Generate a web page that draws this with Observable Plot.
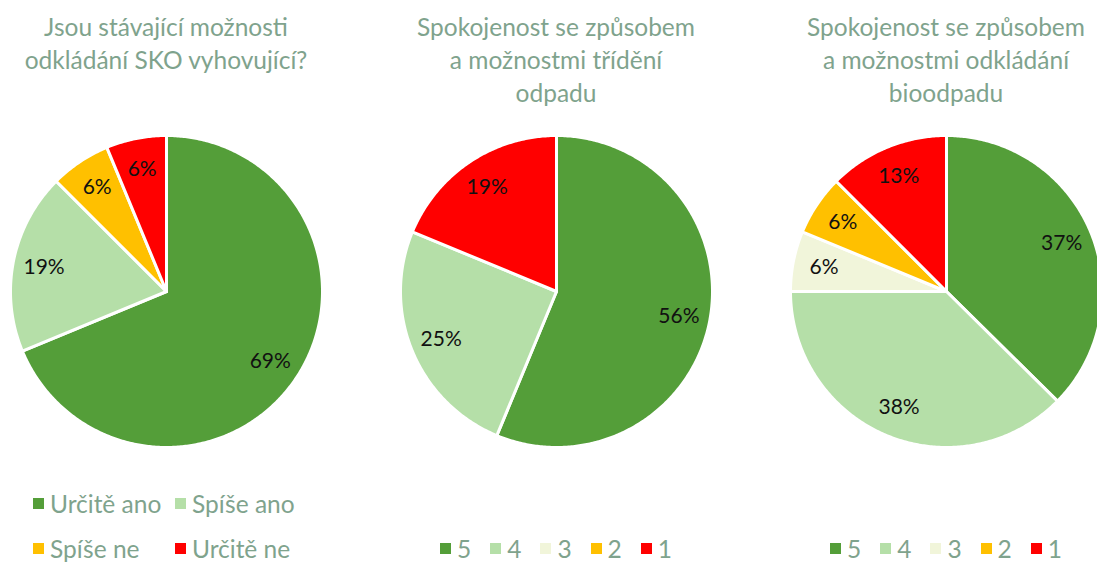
<!DOCTYPE html>
<html><head><meta charset="utf-8">
<script src="https://cdn.jsdelivr.net/npm/d3@7"></script>
<script src="https://cdn.jsdelivr.net/npm/@observablehq/plot@0.6"></script>
<style>
html,body{margin:0;padding:0;background:#fff;width:1097px;height:563px;overflow:hidden;font-family:Lato,"Open Sans",sans-serif;}
.panel{position:absolute;top:0;width:380px;height:563px;}
.title{position:absolute;top:10px;left:0;width:380px;text-align:center;color:#7FA38D;font-size:24.5px;line-height:33px;}
.chart{position:absolute;top:131px;left:0;}
.legend{position:absolute;color:#7FA38D;font-size:24.5px;}
.item{display:flex;align-items:center;white-space:nowrap;}
.sw{width:11px;height:11px;display:inline-block;margin-right:6px;flex:none;}
</style></head><body>
<script>
// ---- data ----
const skoTitle = ["Jsou stávající možnosti", "odkládání SKO vyhovující?"];
const skoCategories = ["Určitě ano", "Spíše ano", "Spíše ne", "Určitě ne"];
const skoValues = [68.75, 18.75, 6.25, 6.25];
const skoColors = ["#549E39", "#B5DFA8", "#FFC000", "#FF0000"];

const ratingCategories = ["5", "4", "3", "2", "1"];
const ratingColors = ["#549E39", "#B5DFA8", "#F1F5DA", "#FFC000", "#FF0000"];

const sortTitle = ["Spokojenost se způsobem", "a možnostmi třídění", "odpadu"];
const sortValues = [56.25, 25, 0, 0, 18.75];

const bioTitle = ["Spokojenost se způsobem", "a možnostmi odkládání", "bioodpadu"];
const bioValues = [37.4, 37.6, 6.25, 6.25, 12.5];

const FONT = "Lato, 'Open Sans', sans-serif";
const R = 156; // pie radius in px

function pieChart(categories, values, colors) {
  const data = categories.map((c, i) => ({category: c, value: values[i]}));
  const arcs = d3.pie().sort(null).value(d => d.value)(data);
  const outline = [];
  for (const a of arcs) {
    if (a.data.value <= 0) continue;
    const n = Math.max(2, Math.ceil((a.endAngle - a.startAngle) / 0.01));
    outline.push({category: a.data.category, x: 0, y: 0});
    for (let k = 0; k <= n; k++) {
      const t = a.startAngle + (a.endAngle - a.startAngle) * k / n;
      outline.push({category: a.data.category, x: Math.sin(t), y: Math.cos(t)});
    }
    outline.push({category: a.data.category, x: 0, y: 0});
  }
  const labels = arcs.filter(a => a.data.value > 0).map(a => {
    const m = (a.startAngle + a.endAngle) / 2;
    return {x: 0.8 * Math.sin(m), y: 0.8 * Math.cos(m), text: Math.round(a.data.value) + "%"};
  });
  return Plot.plot({
    width: 380, height: 320, margin: 0,
    x: {domain: [-190 / R, 190 / R], axis: null},
    y: {domain: [-160 / R, 160 / R], axis: null},
    color: {domain: categories, range: colors},
    marks: [
      Plot.line(outline, {x: "x", y: "y", z: "category", fill: "category", stroke: "white", strokeWidth: 3, strokeLinejoin: "round"}),
      Plot.text(labels, {x: "x", y: "y", text: "text", fill: "#111", fontSize: 21})
    ],
    style: {background: "transparent", overflow: "visible", fontFamily: FONT}
  });
}

function panel(cx, title, categories, values, colors, legendMode) {
  const p = document.createElement("div");
  p.className = "panel";
  p.style.left = (cx - 190) + "px";
  const t = document.createElement("div");
  t.className = "title";
  t.innerHTML = title.join("<br>");
  p.appendChild(t);
  const c = document.createElement("div");
  c.className = "chart";
  c.appendChild(pieChart(categories, values, colors));
  p.appendChild(c);
  const lg = document.createElement("div");
  lg.className = "legend";
  if (legendMode === "grid") {
    lg.style.left = "57px";
    lg.style.top = "481px";
    lg.style.display = "grid";
    lg.style.gridTemplateColumns = "142px auto";
    lg.style.gridAutoRows = "45px";
  } else {
    lg.style.left = "0px";
    lg.style.width = "380px";
    lg.style.top = "533px";
    lg.style.height = "30px";
    lg.style.display = "flex";
    lg.style.justifyContent = "center";
  }
  categories.forEach((cat, i) => {
    const it = document.createElement("div");
    it.className = "item";
    if (legendMode !== "grid" && i < categories.length - 1) it.style.marginRight = "19px";
    const sw = document.createElement("span");
    sw.className = "sw";
    sw.style.background = colors[i];
    it.appendChild(sw);
    it.appendChild(document.createTextNode(cat));
    lg.appendChild(it);
  });
  p.appendChild(lg);
  document.body.appendChild(p);
}

panel(166, skoTitle, skoCategories, skoValues, skoColors, "grid");
panel(556, sortTitle, ratingCategories, sortValues, ratingColors, "row");
panel(946, bioTitle, ratingCategories, bioValues, ratingColors, "row");
</script>
</body></html>
